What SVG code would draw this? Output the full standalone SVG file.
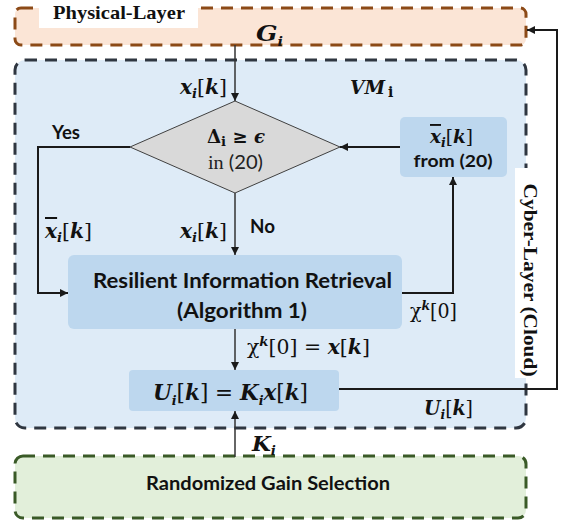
<svg xmlns="http://www.w3.org/2000/svg" width="564" height="523" viewBox="0 0 564 523">
<defs>
<style>
.lay{stroke-width:3;stroke-dasharray:12 8;stroke-linecap:butt}
.blk{fill:#bdd7ee}
.m{font-family:"DejaVu Serif","Liberation Serif",serif;font-weight:bold;font-style:italic;fill:#111}
.up{font-style:normal;font-weight:normal}
.sb{font-size:13px}
.s{font-family:Lato,"Liberation Sans",sans-serif;font-weight:bold;fill:#111}
.c{fill:none;stroke:#333;stroke-width:1.5}
.ct{fill:none;stroke:#1a1a1a;stroke-width:2}
.ov{text-decoration:overline}
</style>
<marker id="ah" viewBox="0 0 10 10" refX="10" refY="5" markerWidth="9" markerHeight="8" markerUnits="userSpaceOnUse" orient="auto">
<path d="M0,0 L10,5 L0,10 z" fill="#1a1a1a"/>
</marker>
</defs>
<rect width="564" height="523" fill="#fff"/>

<g id="physical">
<rect x="15" y="8" width="511" height="37" rx="6" fill="#fbe5d6" stroke="#8c4a17" class="lay"/>
<rect x="39" y="0" width="159" height="28" fill="#fff"/>
<text x="53" y="19" font-family="'Liberation Serif',serif" font-weight="bold" font-size="19" textLength="132" lengthAdjust="spacingAndGlyphs" fill="#111">Physical-Layer</text>
<text class="m" x="256" y="41" font-size="23" textLength="27" lengthAdjust="spacingAndGlyphs">G<tspan class="sb" font-size="15" dy="5">i</tspan></text>
</g>

<g id="vm">
<rect x="15" y="60" width="511" height="368" rx="10" fill="#deebf7" stroke="#2f3640" class="lay"/>
<text class="m" x="350" y="94" font-size="18" textLength="35" lengthAdjust="spacingAndGlyphs">VM</text>
<text x="388" y="97" font-family="'DejaVu Serif',serif" font-weight="bold" font-size="14" fill="#111">i</text>
</g>

<g id="cyber">
<rect x="515" y="168" width="34" height="210" fill="#fff"/>
<text transform="translate(530,280) rotate(90)" x="0" y="6" text-anchor="middle" font-family="'Liberation Serif',serif" font-weight="bold" font-size="18" textLength="193" lengthAdjust="spacingAndGlyphs" fill="#111">Cyber-Layer (Cloud)</text>
</g>

<g id="decision">
<polygon points="235,101 340,147 235,193 130,147" fill="#d9d9d9" stroke="#404040" stroke-width="1"/>
<text x="207" y="143" font-family="'DejaVu Serif',serif" font-weight="bold" font-size="18" textLength="58" lengthAdjust="spacingAndGlyphs" fill="#111">Δ<tspan font-size="13" dy="3">i</tspan><tspan dy="-3"> ≥ </tspan><tspan font-style="italic">ϵ</tspan></text>
<text x="208" y="169" font-size="19" textLength="55" lengthAdjust="spacingAndGlyphs" fill="#222"><tspan font-family="'Liberation Serif',serif">in </tspan><tspan font-family="Lato,'Liberation Sans',sans-serif">(20)</tspan></text>
</g>

<g id="xbar-box">
<rect x="400" y="117" width="107" height="60" rx="5" class="blk"/>
<text class="m" x="430" y="143" font-size="19" textLength="43" lengthAdjust="spacingAndGlyphs"><tspan class="ov">x</tspan><tspan class="sb" dy="4">i</tspan><tspan class="up" dy="-4">[</tspan>k<tspan class="up">]</tspan></text>
<text class="s" x="453" y="167" font-size="17" text-anchor="middle" textLength="79" lengthAdjust="spacingAndGlyphs">from (20)</text>
</g>

<g id="rir">
<rect x="68" y="255" width="334" height="74" rx="6" class="blk"/>
<text class="s" x="93" y="288" font-size="20" textLength="299" lengthAdjust="spacingAndGlyphs">Resilient Information Retrieval</text>
<text class="s" x="177" y="318" font-size="20" textLength="130" lengthAdjust="spacingAndGlyphs">(Algorithm 1)</text>
</g>

<g id="control">
<rect x="129" y="370" width="210" height="41" rx="4" class="blk"/>
<text class="m" x="153" y="400" font-size="22" textLength="155" lengthAdjust="spacingAndGlyphs">U<tspan class="sb" font-size="14" dy="5">i</tspan><tspan class="up" dy="-5">[</tspan>k<tspan class="up">] = </tspan>K<tspan class="sb" font-size="14" dy="5">i</tspan><tspan dy="-5">x</tspan><tspan class="up">[</tspan>k<tspan class="up">]</tspan></text>
</g>

<g id="gain">
<rect x="15" y="456" width="511" height="62" rx="8" fill="#e2efda" stroke="#3a5a27" class="lay"/>
<text class="s" x="268" y="490" font-size="18" text-anchor="middle" textLength="244" lengthAdjust="spacingAndGlyphs">Randomized Gain Selection</text>
</g>

<g id="connectors">
<path class="c" d="M235,45 V101" marker-end="url(#ah)"/>
<path class="c" d="M235,193 V255" marker-end="url(#ah)"/>
<path class="ct" d="M130,147 H38 V293 H68" marker-end="url(#ah)"/>
<path class="ct" d="M402,293 H453 V177" marker-end="url(#ah)"/>
<path class="ct" stroke-width="2.5" d="M400,147 H340" marker-end="url(#ah)"/>
<path class="c" d="M235,329 V370" marker-end="url(#ah)"/>
<path class="c" d="M235,457 V411" marker-end="url(#ah)"/>
<path class="ct" d="M339,389 H557 V30 H527" marker-end="url(#ah)"/>
</g>

<g id="labels">
<text class="m" x="180" y="94" font-size="20" textLength="47" lengthAdjust="spacingAndGlyphs">x<tspan class="sb" dy="4">i</tspan><tspan class="up" dy="-4">[</tspan>k<tspan class="up">]</tspan></text>
<text class="s" x="52" y="139" font-size="18" textLength="28" lengthAdjust="spacingAndGlyphs">Yes</text>
<text class="m" x="45" y="238" font-size="20" textLength="47" lengthAdjust="spacingAndGlyphs"><tspan class="ov">x</tspan><tspan class="sb" dy="4">i</tspan><tspan class="up" dy="-4">[</tspan>k<tspan class="up">]</tspan></text>
<text class="m" x="180" y="238" font-size="20" textLength="47" lengthAdjust="spacingAndGlyphs">x<tspan class="sb" dy="4">i</tspan><tspan class="up" dy="-4">[</tspan>k<tspan class="up">]</tspan></text>
<text class="s" x="250" y="233" font-size="18" textLength="25" lengthAdjust="spacingAndGlyphs">No</text>
<text class="m" x="410" y="318" font-size="20" textLength="47" lengthAdjust="spacingAndGlyphs"><tspan class="up" font-style="italic">χ</tspan><tspan class="sb" dy="-8">k</tspan><tspan class="up" dy="8">[0]</tspan></text>
<text class="m" x="247" y="354" font-size="20" textLength="123" lengthAdjust="spacingAndGlyphs"><tspan class="up" font-style="italic">χ</tspan><tspan class="sb" dy="-8">k</tspan><tspan class="up" dy="8">[0] = </tspan>x<tspan class="up">[</tspan>k<tspan class="up">]</tspan></text>
<text class="m" x="424" y="415" font-size="20" textLength="49" lengthAdjust="spacingAndGlyphs">U<tspan class="sb" dy="4">i</tspan><tspan class="up" dy="-4">[</tspan>k<tspan class="up">]</tspan></text>
<text class="m" x="252" y="451" font-size="21" textLength="24" lengthAdjust="spacingAndGlyphs">K<tspan class="sb" dy="4">i</tspan></text>
</g>
</svg>
